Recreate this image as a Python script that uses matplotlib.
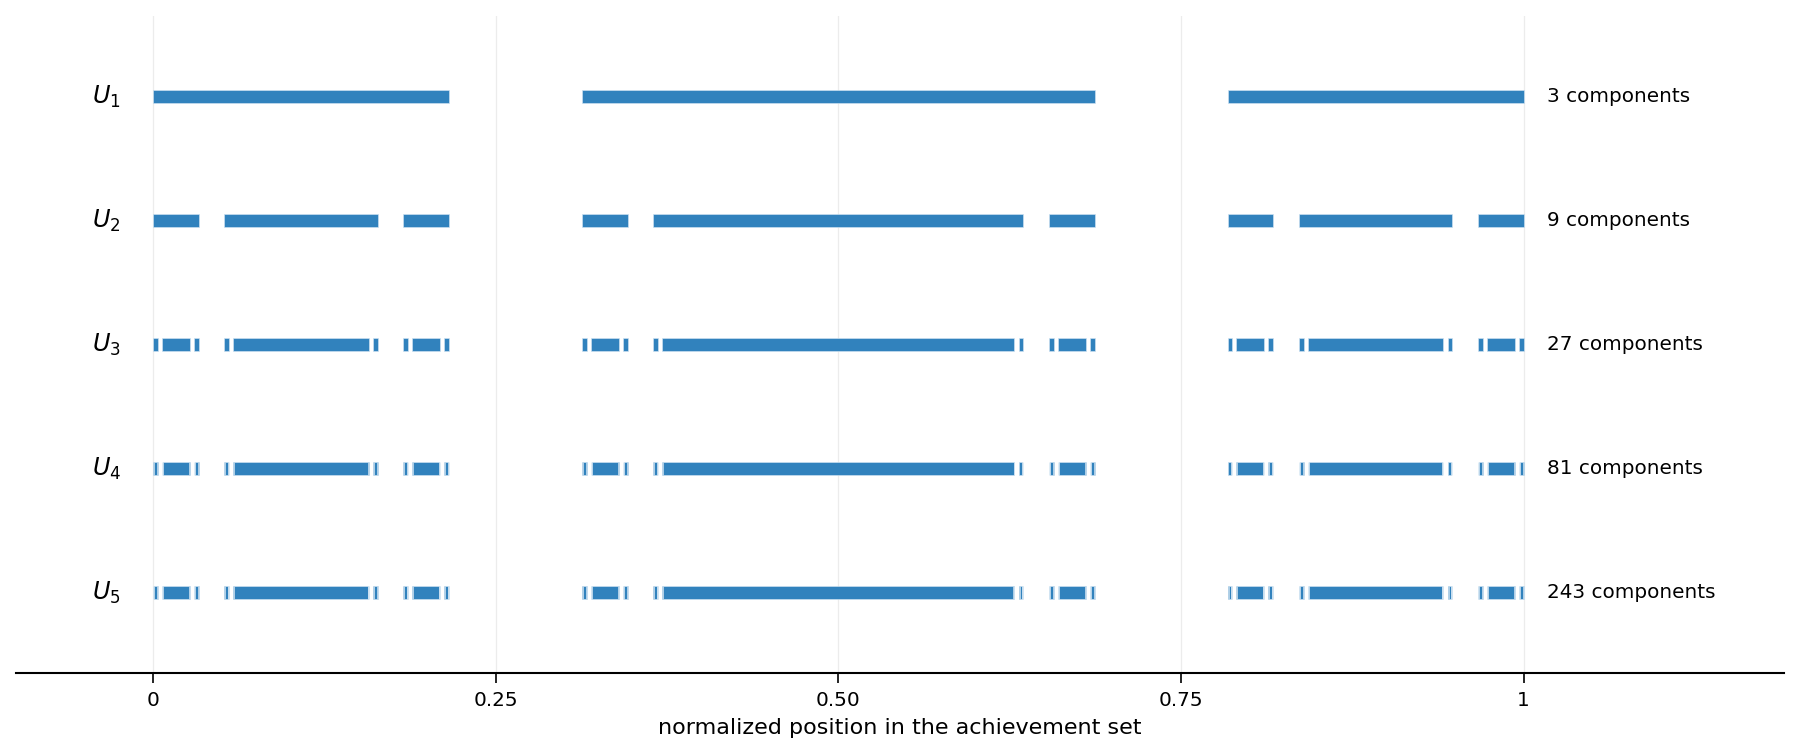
import matplotlib
matplotlib.use("Agg")
import matplotlib.pyplot as plt

# stages of the construction
labels = ["$U_1$", "$U_2$", "$U_3$", "$U_4$", "$U_5$"]
counts = [3, 9, 27, 81, 243]
# each stage splits every interval of the previous one into
# [s, s+r], [s+g, e-g], [e-r, e]
piece_len = [0.216, 0.0333, 0.0035, 0.00037, 0.00004]
mid_offset = [0.313, 0.052, 0.0065, 0.00068, 0.00007]

xticks = [0, 0.25, 0.5, 0.75, 1]
xticklabels = ["0", "0.25", "0.50", "0.75", "1"]

BLUE = "#3182bd"


def split(intervals, r, g):
    out = []
    for s, e in intervals:
        out += [(s, s + r), (s + g, e - g), (e - r, e)]
    return out


fig = plt.figure(figsize=(12, 754 / 150), dpi=150)
ax = fig.add_axes([16 / 1800, 81 / 754, 1768 / 1800, 657 / 754])

intervals = [(0.0, 1.0)]
for i, lab in enumerate(labels):
    intervals = split(intervals, piece_len[i], mid_offset[i])
    y = len(labels) - 1 - i
    ax.broken_barh([(s, e - s) for s, e in intervals], (y - 0.053, 0.106),
                   facecolor=BLUE, edgecolor="#cfe3f2", linewidth=0.3)
    ax.text(-0.034, y, lab, ha="center", va="center", fontsize=11.5)
    ax.text(1.017, y, f"{counts[i]} components", ha="left", va="center",
            fontsize=9.6)

ax.set_xlim(-0.1, 1.19)
ax.set_ylim(-0.65, 4.65)
ax.set_xticks(xticks)
ax.set_xticklabels(xticklabels, fontsize=9.6)
ax.set_yticks([])
ax.set_xlabel("normalized position in the achievement set", fontsize=10.7)
ax.grid(axis="x", color="#ececec", linewidth=0.6)
ax.set_axisbelow(True)
for side in ["top", "left", "right"]:
    ax.spines[side].set_visible(False)
ax.spines["bottom"].set_linewidth(1.0)
ax.tick_params(axis="x", length=5, width=0.8)

fig.savefig("out.png", dpi=150)
